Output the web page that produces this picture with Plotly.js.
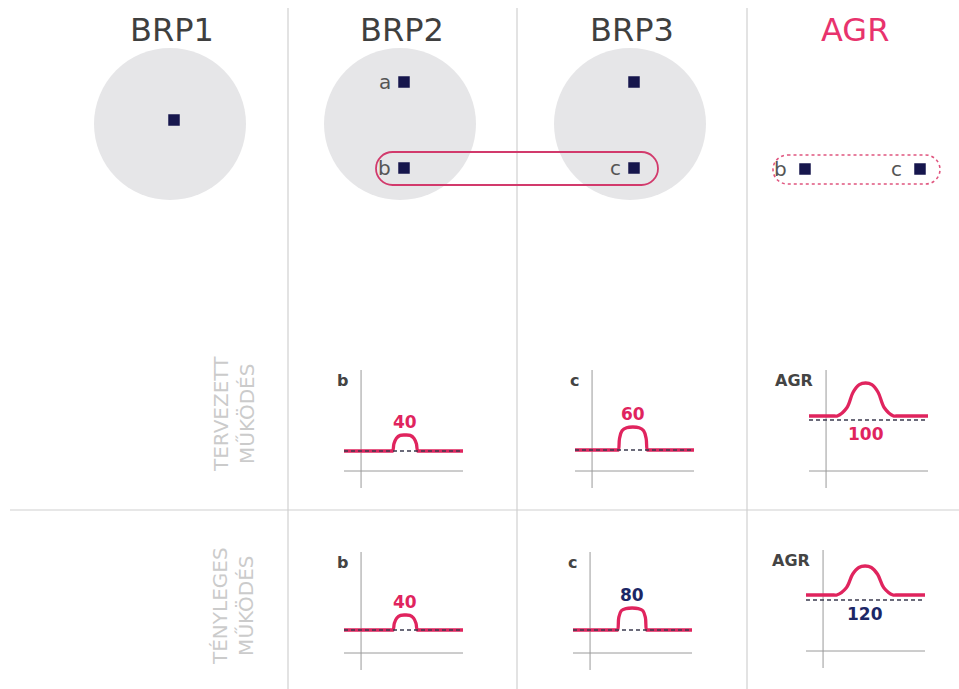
<!DOCTYPE html>
<html><head><meta charset="utf-8">
<script src="https://cdn.plot.ly/plotly-3.0.1.min.js"></script>
<style>html,body{margin:0;padding:0;background:#fff}#chart{width:959px;height:689px}</style>
</head><body><div id="chart"></div>
<script>
// ================= DATA =================
const columns = ['BRP1', 'BRP2', 'BRP3', 'AGR'];
const rowLabels = ['TERVEZETT<br>MŰKÖDÉS', 'TÉNYLEGES<br>MŰKÖDÉS'];

// units (points) drawn in each column
const unitNames  = ['', 'a', 'b', '', 'c', 'b', 'c'];
const unitColumn = [0, 1, 1, 2, 2, 3, 3];
const unitSlot   = ['mid', 'top', 'bottom', 'top', 'bottom', 'bottom', 'bottom'];

// small schedule charts: row 0 = planned, row 1 = actual
const chartNames  = ['b', 'c', 'AGR', 'b', 'c', 'AGR'];
const chartRow    = [0, 0, 0, 1, 1, 1];
const chartCol    = [1, 2, 3, 1, 2, 3];
const bumpValues  = [40, 60, 100, 40, 80, 120];
const baseLevels  = [50, 50, 100, 50, 50, 100];
const refLevels   = [50, 50, 88, 50, 50, 79];

const hoursB1 = [-4.1, 7.2, 7.6, 7.9, 8.5, 9.4, 10.6, 11.8, 12.7, 13.3, 13.6, 14.0, 24.5];
const loadB1  = [50, 50, 50, 68, 82, 89, 90, 89, 82, 68, 50, 50, 50];
const hoursC1 = [-4.1, 5.9, 6.3, 6.6, 7.2, 8.3, 9.8, 11.3, 12.4, 13.0, 13.3, 13.7, 24.5];
const loadC1  = [50, 50, 50, 80, 100, 108, 110, 108, 100, 80, 50, 50, 50];
const hoursA1 = [-4.1, 2.0, 2.7, 5.0, 6.5, 8.0, 9.5, 11.0, 12.5, 14.0, 16.2, 16.9, 24.5];
const loadA1  = [100, 100, 100, 125, 172, 195, 200, 195, 172, 125, 100, 100, 100];
const hoursB2 = [-4.1, 7.3, 7.7, 8.0, 8.6, 9.5, 10.6, 11.7, 12.6, 13.2, 13.5, 13.9, 24.5];
const loadB2  = [50, 50, 50, 68, 82, 89, 90, 89, 82, 68, 50, 50, 50];
const hoursC2 = [-4.1, 6.2, 6.6, 6.9, 7.5, 8.6, 10.1, 11.6, 12.7, 13.3, 13.6, 14.0, 24.5];
const loadC2  = [50, 50, 50, 95, 120, 128, 130, 128, 120, 95, 50, 50, 50];
const hoursA2 = [-4.1, 2.6, 3.3, 5.6, 7.1, 8.6, 10.1, 11.6, 13.1, 14.6, 16.8, 17.5, 24.5];
const loadA2  = [100, 100, 100, 130, 186, 214, 220, 214, 186, 130, 100, 100, 100];

const chartHours = [hoursB1, hoursC1, hoursA1, hoursB2, hoursC2, hoursA2];
const chartLoads = [loadB1, loadC1, loadA1, loadB2, loadC2, loadA2];
const timeRange = [-4.1, 24.5];

// ================= STYLE / LAYOUT =================
const W = 959, H = 689;
const PINK = '#e0245e', NAVY = '#1c2766', DOT = '#17174d';
const FONT = 'DejaVu Sans, Open Sans, sans-serif';
const px = x => x / W, py = y => 1 - y / H;

const colCenters = [170, 400, 630, 853];
const circleCY = 124, circleR = 76;
const slotY = {top: 82, mid: 120, bottom: 168};
const agrDotX = {b: 805, c: 920};

// mini chart boxes (pixels)
const zeroX   = [361, 592, 826, 361, 590, 823];
const boxTop  = [370, 370, 370, 552, 552, 550];
const bumpPx  = [16, 23, 33, 15, 22, 29];
const basePx  = [37, 38, 72, 40, 40, 73];
const BOX_W = 119, BOX_H = 118, ZERO_OFF = 17, AXIS_OFF = 17;

const traces = [];
const shapes = [];
const annotations = [];

// dividers
[288, 517, 747].forEach(x => shapes.push({type:'line', xref:'paper', yref:'paper', layer:'below',
  x0:px(x), x1:px(x), y0:py(8), y1:0, line:{color:'#d0d0d0', width:1.2}}));
shapes.push({type:'line', xref:'paper', yref:'paper', layer:'below',
  x0:px(10), x1:1, y0:py(510), y1:py(510), line:{color:'#d0d0d0', width:1.2}});

// circles for BRP1..3
for (let c = 0; c < 3; c++) {
  shapes.push({type:'circle', xref:'x', yref:'y', layer:'below',
    x0:colCenters[c]-circleR, x1:colCenters[c]+circleR, y0:circleCY-circleR, y1:circleCY+circleR,
    fillcolor:'#e6e6e8', line:{width:0}});
}

function roundedRect(x0, y0, x1, y1) {
  const r = (y1 - y0) / 2, k = 0.5523 * r;
  return `M ${x0+r},${y0} L ${x1-r},${y0} C ${x1-r+k},${y0} ${x1},${y0+r-k} ${x1},${y0+r} ` +
         `C ${x1},${y1-r+k} ${x1-r+k},${y1} ${x1-r},${y1} L ${x0+r},${y1} ` +
         `C ${x0+r-k},${y1} ${x0},${y1-r+k} ${x0},${y1-r} C ${x0},${y0+r-k} ${x0+r-k},${y0} ${x0+r},${y0} Z`;
}
shapes.push({type:'path', xref:'x', yref:'y', layer:'below', path:roundedRect(376, 152, 658, 185),
  line:{color:'#d23a6c', width:1.8}});
shapes.push({type:'path', xref:'x', yref:'y', layer:'below', path:roundedRect(773, 155, 940, 184),
  line:{color:'#e0557f', width:1.6, dash:'dot'}});

// units
const ux = [], uy = [];
unitNames.forEach((n, i) => {
  const col = unitColumn[i];
  const x = col < 3 ? colCenters[col] + 4 : agrDotX[n];
  const y = col < 3 ? slotY[unitSlot[i]] : 169;
  ux.push(x); uy.push(y);
  if (n) annotations.push({xref:'x', yref:'y', x: x - (col < 3 ? 11 : 16), y: y, xanchor:'right', yanchor:'middle',
    text:n, showarrow:false, font:{family:FONT, size:20, color:'#555'}});
});
traces.push({type:'scatter', mode:'markers', x:ux, y:uy, xaxis:'x', yaxis:'y', hoverinfo:'skip',
  marker:{symbol:'square', size:10, color:DOT, line:{width:1.5, color:DOT}}});

// titles
columns.forEach((t, i) => annotations.push({xref:'paper', yref:'paper', x:px(colCenters[i] + 2), y:py(30),
  xanchor:'center', yanchor:'middle', text:t, showarrow:false,
  font:{family:FONT, size:32, color: i === 3 ? '#e8336d' : '#3f3f3f'}}));

// row labels
[[234, 414], [233, 606]].forEach((p, i) => annotations.push({xref:'paper', yref:'paper', x:px(p[0]), y:py(p[1]),
  xanchor:'center', yanchor:'middle', textangle:-90, text:rowLabels[i], showarrow:false,
  font:{family:FONT, size:20, color:'#cbcbcb'}}));

const layout = {
  width: W, height: H, margin:{l:0, r:0, t:0, b:0}, showlegend:false,
  paper_bgcolor:'#fff', plot_bgcolor:'rgba(0,0,0,0)',
  xaxis:{domain:[0,1], range:[0, W], visible:false, fixedrange:true},
  yaxis:{domain:[0,1], range:[H, 0], visible:false, fixedrange:true},
  shapes, annotations
};

// mini charts
chartNames.forEach((name, i) => {
  const n = i + 2, xa = 'x' + n, ya = 'y' + n;
  const left = zeroX[i] - ZERO_OFF, top = boxTop[i];
  const s = bumpValues[i] / bumpPx[i];
  const yMin = baseLevels[i] - basePx[i] * s;
  layout['xaxis' + n] = {domain:[px(left), px(left + BOX_W)], range:timeRange, visible:false, anchor:ya, fixedrange:true};
  layout['yaxis' + n] = {domain:[py(top + BOX_H), py(top)], range:[yMin, yMin + BOX_H * s], visible:false, anchor:xa, fixedrange:true};
  // axes lines
  shapes.push({type:'line', xref:xa, yref:ya + ' domain', layer:'below', x0:0, x1:0, y0:0, y1:1,
    line:{color:'#9a9a9a', width:1}});
  shapes.push({type:'line', xref:xa + ' domain', yref:ya + ' domain', layer:'below', x0:0, x1:1,
    y0:AXIS_OFF / BOX_H, y1:AXIS_OFF / BOX_H, line:{color:'#9a9a9a', width:1}});
  // load curve
  traces.push({type:'scatter', mode:'lines', x:chartHours[i], y:chartLoads[i], xaxis:xa, yaxis:ya, hoverinfo:'skip',
    line:{color:PINK, width:3.3, shape:'spline', smoothing:1.0}});
  // reference dashed line
  traces.push({type:'scatter', mode:'lines', x:timeRange, y:[refLevels[i], refLevels[i]], xaxis:xa, yaxis:ya, hoverinfo:'skip',
    line:{color:'#3b3b4f', width:1.5, dash:'4px,3px'}});
  // chart name
  annotations.push({xref:'paper', yref:'paper', x:px(zeroX[i] - 11), y:py(top + 10), xanchor:'right', yanchor:'middle',
    text:name, showarrow:false, font:{family:FONT, size:16, color:'#444', weight:'bold'}});
  // value label
  const loads = chartLoads[i];
  const peakIdx = loads.indexOf(Math.max(...loads));
  const isAgr = name === 'AGR';
  const color = (chartRow[i] === 1 && chartCol[i] >= 2) ? NAVY : PINK;
  annotations.push({xref:xa, yref:ya, x:chartHours[i][peakIdx], y: isAgr ? refLevels[i] : loads[peakIdx],
    xanchor:'center', yanchor: isAgr ? 'top' : 'bottom', yshift: isAgr ? -2 : 1,
    text:String(bumpValues[i]), showarrow:false, font:{family:FONT, size:17, color:color, weight:'bold'}});
});

Plotly.newPlot('chart', traces, layout, {displayModeBar:false, staticPlot:true});
</script></body></html>
